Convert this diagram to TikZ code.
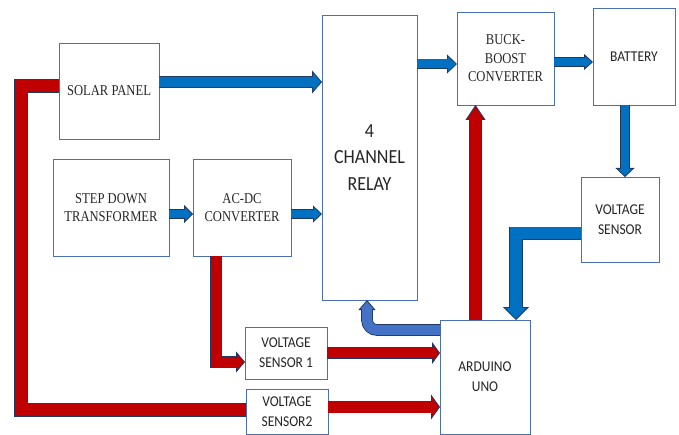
\documentclass[tikz,border=0pt]{standalone}
\usepackage{fontspec}
\usetikzlibrary{arrows.meta,calc}
\newfontfamily\serf[FakeStretch=0.84]{Liberation Serif}
\newfontfamily\sanf[FakeStretch=0.9]{Carlito}
\definecolor{blu}{HTML}{0070C0}
\definecolor{rd}{HTML}{C00000}
\definecolor{lblu}{HTML}{4472C4}
\definecolor{edge}{HTML}{1F3864}
\definecolor{boxc}{HTML}{4A6FB5}
\definecolor{txt}{HTML}{262626}
% #1 fill colour, #2 shaft width, #3 head width, #4 head length, #5 path
\newcommand\blockarrow[5]{%
  \draw[line width=#2+1.6pt, draw=edge, line join=miter,
        -{Triangle[length=#4 0 0, width=#3 0 0, line width=0.8pt 0 0, fill=#1]}] #5;
  \draw[line width=#2, draw=#1, line join=miter, shorten >=#4-0.8pt] #5;}
\newcommand\blockline[3]{%
  \draw[line width=#2+1.6pt, draw=edge, line join=miter] #3;
  \draw[line width=#2, draw=#1, line join=miter] #3;}
\tikzset{
  box/.style={draw=boxc, line width=0.9pt, fill=white, align=center,
              inner sep=0pt, outer sep=0pt, text=txt},
  serifbox/.style={box, font=\serf\fontsize{15}{18.5}\selectfont},
  sansbox/.style={box, font=\sanf\fontsize{15}{20}\selectfont},
  relaybox/.style={box, font=\sanf\fontsize{20}{26.5}\selectfont}
}
\begin{document}
\begin{tikzpicture}[x=1pt,y=-1pt]
\useasboundingbox[fill=white] (0,0) rectangle (679,435);
% boxes
\node[serifbox, minimum width=100pt, minimum height=96pt] (solar) at (109,91) {SOLAR PANEL};
\node[serifbox, minimum width=116pt, minimum height=97pt] (step) at (111,207.5) {STEP DOWN\\TRANSFORMER};
\node[serifbox, minimum width=98pt, minimum height=97pt] (acdc) at (242,207.5) {AC-DC\\CONVERTER};
\node[relaybox, minimum width=95pt, minimum height=285pt] (relay) at (369.5,157.5) {4\\CHANNEL\\RELAY};
\node[serifbox, minimum width=97pt, minimum height=93pt] (buck) at (505.5,58.5) {BUCK-\\BOOST\\CONVERTER};
\node[sansbox, minimum width=82pt, minimum height=97pt] (battery) at (634,56.5) {BATTERY};
\node[sansbox, minimum width=78pt, minimum height=85pt] (vsens) at (620,219.5) {VOLTAGE\\SENSOR};
\node[sansbox, minimum width=90pt, minimum height=114pt] (arduino) at (485,377) {ARDUINO\\UNO};
\node[sansbox, minimum width=82pt, minimum height=52pt] (vs1) at (286,353) {VOLTAGE\\SENSOR 1};
\node[sansbox, minimum width=82pt, minimum height=45pt] (vs2) at (287,411.5) {VOLTAGE\\SENSOR2};
% coordinates for connector ends
\coordinate (a1) at ([yshift=9pt]solar.east);
\coordinate (a2) at ([yshift=-6.5pt]step.east);
\coordinate (a3) at ([yshift=-6.5pt]acdc.east);
\coordinate (a4) at ([yshift=-5.5pt]buck.west);
\coordinate (a5) at ([yshift=-3.5pt]buck.east);
\coordinate (a6) at ([xshift=-9pt]battery.south);
\coordinate (a7) at ([yshift=-14pt]vsens.west);
\coordinate (a7b) at ([xshift=31pt]arduino.north);
\coordinate (a8) at ([xshift=-9.5pt]arduino.north);
\coordinate (a9) at ([yshift=47pt]arduino.west);
\coordinate (a9b) at ([xshift=-2.5pt]relay.south);
\coordinate (a10) at ([xshift=-26pt]acdc.south);
\coordinate (a10b) at ([yshift=-9pt]vs1.west);
\coordinate (a12) at ([yshift=4.5pt]vs2.east);
\coordinate (a13) at ([yshift=5pt]solar.west);
\coordinate (a13b) at ([yshift=1.5pt]vs2.west);
\coordinate (lx) at ([xshift=-38pt]a13);
% connectors
\blockline{rd}{12pt}{(a13) -- (lx) -- (lx |- a13b) -- (a13b)}
\blockarrow{blu}{10pt}{23pt}{10pt}{(a1) -- (a1 -| relay.west)}
\blockarrow{blu}{8pt}{18pt}{9pt}{(a2) -- (a2 -| acdc.west)}
\blockarrow{blu}{8pt}{17pt}{9pt}{(a3) -- (a3 -| relay.west)}
\blockarrow{blu}{9pt}{19pt}{10pt}{(a4 -| relay.east) -- (a4)}
\blockarrow{blu}{8pt}{16pt}{9pt}{(a5) -- (a5 -| battery.west)}
\blockarrow{blu}{8pt}{19pt}{9pt}{(a6) -- (a6 |- vsens.north)}
\blockarrow{blu}{12pt}{26pt}{13pt}{(a7) -- (a7 -| a7b) -- (a7b)}
\blockarrow{rd}{11pt}{20pt}{15pt}{(a8) -- (a8 |- buck.south)}
\blockarrow{lblu}{10pt}{17pt}{10pt}{(a9) [rounded corners=10pt] -- (a9 -| a9b) -- (a9b)}
\blockarrow{rd}{11pt}{21pt}{9pt}{(a10) -- (a10 |- a10b) -- (a10b)}
\blockarrow{rd}{10pt}{22pt}{8pt}{(vs1.east) -- (vs1.east -| arduino.west)}
\blockarrow{rd}{11pt}{25pt}{9pt}{(a12) -- (a12 -| arduino.west)}
\end{tikzpicture}
\end{document}
